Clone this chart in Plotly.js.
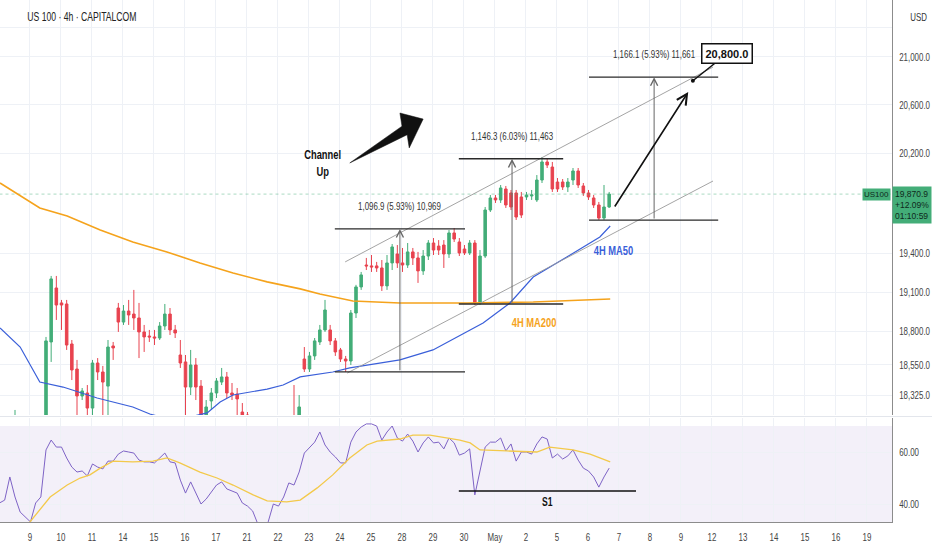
<!DOCTYPE html>
<html><head><meta charset="utf-8">
<script src="https://cdn.plot.ly/plotly-3.0.1.min.js"></script>
<style>html,body{margin:0;padding:0;background:#fff}#chart{width:932px;height:550px}</style>
</head><body><div id="chart"></div>
<script>
// ---------- DATA ----------
const firstBar = -3; // bar index of the first candle (4h bars, 6 per day)
const openP = [18068,18032,18083,18054,18068,18010,17981,17952,18054,18105,18721,19133,19018,19010,18706,18518,18318,18340,18229,18563,18496,18391,18691,18979,18872,18956,18933,18903,18797,18766,18759,18751,18842,18933,18812,18623,18571,18384,18548,18391,18156,18281,18340,18421,18459,18340,18332,18200,18178,18083,17996,17837,17779,17866,17959,17938,18032,18105,18068,18593,18518,18616,18721,18812,18812,18729,18661,18593,18578,18941,19141,19311,19304,19304,19288,19149,19327,19397,19327,19311,19413,19366,19265,19381,19483,19459,19467,19397,19562,19491,19436,19405,19483,19018,19381,19744,19840,19824,19912,19880,19880,19848,19848,19856,19824,19984,20130,20089,19968,19968,19928,19984,20057,19936,19880,19840,19784,19680,19768];
const highP = [18127,18105,18141,18215,18127,18083,18054,18105,18141,18759,19226,19226,19041,19041,18736,18586,18377,18399,18586,18600,18541,18736,18721,19018,19002,19041,19118,19018,18850,18812,18812,18872,19010,18979,18850,18736,18623,18661,18600,18436,18288,18377,18451,18526,18496,18414,18377,18266,18200,18141,18054,17923,17887,17996,18032,18083,18141,18399,18325,18683,18646,18751,18850,19041,18850,18751,18676,18616,18964,19157,19257,19366,19389,19335,19350,19389,19475,19467,19444,19483,19444,19413,19428,19506,19522,19506,19506,19585,19601,19522,19467,19506,19506,19428,19768,19864,19864,19944,19936,19904,19904,19888,19888,19904,20024,20170,20162,20130,20000,19992,20000,20081,20081,19960,19904,19864,19808,19944,19888];
const lowP = [17996,17959,18010,17996,17981,17952,17923,17938,18010,18068,18571,18888,18812,18661,18436,18141,18288,18141,18141,18436,18141,18141,18586,18797,18850,18850,18812,18600,18646,18721,18698,18736,18812,18774,18751,18526,18178,18325,18288,18068,18105,18215,18303,18399,18303,18288,18141,18105,18068,17959,17779,17708,17743,17837,17909,17923,17996,17996,18054,18496,18496,18586,18698,18797,18698,18616,18571,18496,18548,18903,19118,19272,19257,19257,19110,19118,19272,19288,19257,19288,19311,19172,19234,19350,19389,19389,19288,19366,19491,19381,19389,19389,19002,19002,19366,19728,19800,19800,19760,19744,19665,19680,19824,19824,19808,19960,20081,19888,19888,19904,19888,19944,19920,19856,19824,19760,19665,19665,19760];
const closeP = [18032,18083,18054,18068,18010,17981,17952,18054,18105,18729,19203,19002,19002,18698,18511,18318,18355,18229,18563,18496,18421,18683,18676,18872,18956,18926,18903,18797,18759,18759,18751,18842,18933,18812,18789,18563,18384,18548,18384,18141,18237,18340,18429,18459,18340,18325,18296,18178,18083,17996,17837,17779,17866,17959,17938,18032,18105,18068,18237,18518,18616,18729,18812,18964,18729,18646,18593,18578,18941,19141,19234,19304,19296,19288,19149,19327,19452,19327,19311,19413,19366,19265,19381,19483,19428,19428,19397,19562,19514,19405,19405,19483,19018,19381,19744,19840,19824,19920,19784,19768,19688,19704,19864,19864,19984,20130,20105,19912,19912,19928,19968,20057,19944,19880,19848,19784,19680,19768,19870.9];
const rsiVal = [40.4,41.5,50.4,42.7,36.9,35.0,33.1,40.4,42.7,60.8,64.6,61.9,61.9,57.7,54.2,52.3,52.7,50.8,55.4,54.2,53.5,56.5,56.5,59.2,60.4,60.0,59.6,56.9,56.2,56.2,55.8,57.7,59.6,56.2,55.8,49.2,44.2,48.5,44.2,40.0,41.9,44.6,47.3,48.5,45.8,45.0,44.2,40.4,39.2,37.3,32.3,30.0,33.1,40.0,39.2,42.7,48.1,47.3,52.3,59.6,61.5,63.8,67.7,62.7,60.0,58.1,55.8,55.8,63.8,67.7,69.6,70.8,70.8,70.0,64.6,67.7,70.0,65.4,64.2,66.9,64.2,60.0,63.5,65.8,63.5,63.8,61.2,65.4,63.5,58.8,59.6,61.2,43.5,53.1,61.9,63.8,63.8,65.4,60.4,63.1,56.5,60.0,60.0,59.2,63.1,65.8,65.0,57.7,59.2,57.3,58.5,60.8,56.9,53.8,52.7,50.4,46.5,50.4,53.8];
const rsiMaBar = [1.0,2.9,6.8,10.1,12.6,14.5,16.5,19.0,22.8,26.7,29.4,31.9,35.8,39.1,42.2,46.1,48.8,52.6,55.2,58.5,61.5,64.8,68.1,70.1,74.5,77.0,80.3,83.6,86.1,88.1,90.0,95.2,101.0,103.5,108.0,111.3,115.2];
const rsiMaVal = [28.1,33.1,42.7,47.3,50.0,51.2,53.8,56.5,56.2,56.5,57.7,55.8,52.3,50.0,47.3,43.5,41.2,40.8,41.5,46.2,51.2,57.7,62.7,64.2,65.0,66.5,66.5,65.4,64.6,63.5,60.8,60.4,60.0,61.9,60.8,59.2,56.2];
const ma50Bar = [-2.9,1.0,4.8,9.3,15.9,22.8,26.1,29.0,32.9,37.2,39.7,42.2,48.8,51.9,55.2,61.5,64.8,74.5,80.9,87.5,90.6,95.8,100.3,106.8,113.2,115.2];
const ma50Val = [18827,18683,18421,18384,18303,18237,18185,18156,18156,18193,18273,18325,18369,18399,18459,18496,18526,18586,18661,18797,18865,19018,19218,19373,19530,19617];
const ma200Bar = [-2.9,4.8,10.1,16.5,22.8,29.4,35.8,42.2,48.8,55.2,59.0,65.4,74.5,87.5,100.3,115.2];
const ma200Val = [19960,19760,19696,19585,19491,19413,19327,19249,19180,19126,19087,19033,19018,19018,19025,19048];
const dayLabels = ['9','10','11','14','15','16','17','21','22','23','24','25','28','29','30','May','2','5','6','7','8','9','12','13','14','15','16','19'];
const priceTicks = [18325,18550,18800,19100,19400,20200,20600,21000,21250];
const priceTickText = ['18,325.0','18,550.0','18,800.0','19,100.0','19,400.0','20,200.0','20,600.0','21,000.0',''];
const lastPrice = 19870.9;
// drawings (bar index / price)
const measStart = [61.9, 85.9, 111.1];
const measEnd = [87.1, 106.1, 136.1];
const measMid = [74.5, 96.2, 123.7];
const measLow = [18497, 19010, 19664];
const measHigh = [19594, 20156, 20830];
const measLabel = ['1,096.9 (5.93%) 10,969', '1,146.3 (6.03%) 11,463', '1,166.1 (5.93%) 11,661'];
const chanUpBar = [63.9, 135.1], chanUpVal = [19335, 20915];
const chanLoBar = [64.3, 135.1], chanLoVal = [18488, 19976];
const bigArrowBar = [64.8, 74.9, 74.5, 79.0, 76.3, 75.9, 64.8];
const bigArrowVal = [20122, 20422, 20531, 20481, 20244, 20352, 20122];
const projFrom = [115.9, 19760], projTo = [130.3, 20706];
const targetBar = 131.2, targetVal = 20800;
const s1Bar = [85.9, 120.2], s1Val = 45.0;

// ---------- CHART ----------
const FONT = '"Liberation Sans",Arial,sans-serif';
const SQUEEZE = 0.72; // the reference's lettering is horizontally condensed
const GRID = '#eef1f6';
const UP = '#43ad78', DOWN = '#e8434f';
const L10 = v => Math.log10(v);
const barX = openP.map((_, k) => firstBar + k);

const traces = [];
traces.push({type:'candlestick', x:barX, open:openP, high:highP, low:lowP, close:closeP,
  xaxis:'x', yaxis:'y', whiskerwidth:0, hoverinfo:'skip',
  increasing:{line:{color:UP,width:1}, fillcolor:UP},
  decreasing:{line:{color:DOWN,width:1}, fillcolor:DOWN}});
traces.push({type:'scatter', mode:'lines', x:[-3,170], y:[lastPrice,lastPrice], xaxis:'x', yaxis:'y',
  line:{color:'rgba(67,173,120,0.45)', width:1, dash:'dot'}, hoverinfo:'skip'});
traces.push({type:'scatter', mode:'lines', x:ma200Bar, y:ma200Val, xaxis:'x', yaxis:'y',
  line:{color:'#f5a31c', width:1.6}, hoverinfo:'skip'});
traces.push({type:'scatter', mode:'lines', x:ma50Bar, y:ma50Val, xaxis:'x', yaxis:'y',
  line:{color:'#3a5fd9', width:1.2}, hoverinfo:'skip'});
traces.push({type:'scatter', mode:'lines', x:[chanUpBar[0],chanUpBar[1],null,chanLoBar[0],chanLoBar[1]],
  y:[chanUpVal[0],chanUpVal[1],null,chanLoVal[0],chanLoVal[1]], xaxis:'x', yaxis:'y',
  line:{color:'#9a9a9a', width:0.9}, hoverinfo:'skip'});
const mx = [], my = [];
for (let k = 0; k < measStart.length; k++) {
  mx.push(measStart[k], measEnd[k], null, measStart[k], measEnd[k], null);
  my.push(measHigh[k], measHigh[k], null, measLow[k], measLow[k], null);
}
traces.push({type:'scatter', mode:'lines', x:mx, y:my, xaxis:'x', yaxis:'y',
  line:{color:'#2a2a2a', width:1.3}, hoverinfo:'skip'});
traces.push({type:'scatter', mode:'lines', x:bigArrowBar, y:bigArrowVal, xaxis:'x', yaxis:'y',
  fill:'toself', fillcolor:'#111', line:{color:'#111', width:0.5}, hoverinfo:'skip'});
traces.push({type:'scatter', mode:'markers', x:[targetBar], y:[targetVal], xaxis:'x', yaxis:'y',
  marker:{color:'#111', size:4}, hoverinfo:'skip'});
traces.push({type:'scatter', mode:'lines', x:barX, y:rsiVal, xaxis:'x', yaxis:'y2',
  line:{color:'#7e63c6', width:1}, hoverinfo:'skip'});
traces.push({type:'scatter', mode:'lines', x:rsiMaBar, y:rsiMaVal, xaxis:'x', yaxis:'y2',
  line:{color:'#f3c94a', width:1.3}, hoverinfo:'skip'});
traces.push({type:'scatter', mode:'lines', x:s1Bar, y:[s1Val, s1Val], xaxis:'x', yaxis:'y2',
  line:{color:'#111', width:1.6}, hoverinfo:'skip'});

const ann = [];
const boxed = new Set(); // boxed labels keep their natural width
ann.push({xref:'paper', yref:'paper', x:0, y:1, xanchor:'left', yanchor:'top', xshift:4, yshift:-8,
  text:'US 100 · 4h · CAPITALCOM', showarrow:false, font:{family:FONT, size:12, color:'#222'}});
ann.push({xref:'paper', yref:'paper', x:1, y:1, xanchor:'left', yanchor:'top', xshift:13, yshift:-9,
  text:'USD', showarrow:false, font:{family:FONT, size:11, color:'#333'}});
ann.push({xref:'x', yref:'y', x:59.6, y:L10(20122), text:'<b>Channel<br>Up</b>', showarrow:false,
  align:'center', font:{family:FONT, size:13, color:'#111'}});
ann.push({xref:'x', yref:'y', x:115.9, y:L10(19428), text:'<b>4H MA50</b>', showarrow:false,
  font:{family:FONT, size:13, color:'#3a5fd9'}});
ann.push({xref:'x', yref:'y', x:100.4, y:L10(18872), text:'<b>4H MA200</b>', showarrow:false,
  font:{family:FONT, size:13, color:'#f5a31c'}});
for (let k = 0; k < measStart.length; k++) {
  ann.push({xref:'x', yref:'y', x:measMid[k], y:L10(measHigh[k]), yshift:23, text:measLabel[k], showarrow:false,
    font:{family:FONT, size:11, color:'#333'}});
  ann.push({xref:'x', yref:'y', axref:'x', ayref:'y', x:measMid[k], y:L10(measHigh[k]),
    ax:measMid[k], ay:L10(measLow[k]), text:'', showarrow:true, arrowhead:5, arrowsize:1.4,
    arrowwidth:1, arrowcolor:'#666', standoff:0, startstandoff:0});
}
ann.push({xref:'x', yref:'y', axref:'x', ayref:'y', x:projTo[0], y:L10(projTo[1]),
  ax:projFrom[0], ay:L10(projFrom[1]), text:'', showarrow:true, arrowhead:5, arrowsize:1.3,
  arrowwidth:1.6, arrowcolor:'#111', standoff:0});
boxed.add(ann.length);
ann.push({xref:'x', yref:'y', x:targetBar, y:L10(targetVal), ax:34, ay:-27, text:'<b>20,800.0</b>',
  showarrow:true, arrowhead:0, arrowwidth:1.5, arrowcolor:'#111', bordercolor:'#111', borderwidth:1.5,
  borderpad:3, bgcolor:'#fff', font:{family:FONT, size:11, color:'#111'}});
ann.push({xref:'x', yref:'y2', x:(s1Bar[0]+s1Bar[1])/2, y:s1Val, yshift:-11, text:'<b>S1</b>', showarrow:false,
  font:{family:FONT, size:12, color:'#111'}});
boxed.add(ann.length);
ann.push({xref:'paper', yref:'y', x:1, y:L10(lastPrice), xanchor:'right', yanchor:'middle', xshift:-1,
  text:'US100', showarrow:false, bgcolor:UP, borderpad:1, font:{family:FONT, size:8, color:'#0f2a1c'}});
boxed.add(ann.length);
ann.push({xref:'paper', yref:'y', x:1, y:L10(lastPrice), xanchor:'left', yanchor:'top', xshift:0, yshift:8,
  text:'19,870.9<br>+12.09%<br>01:10:59', showarrow:false, align:'left', bgcolor:UP, borderpad:2,
  font:{family:FONT, size:8.5, color:'#0f2a1c'}});

const tickFont = {family:FONT, size:11, color:'#444'};
const layout = {
  width:932, height:550, margin:{l:0, r:40, t:0, b:28, pad:0},
  paper_bgcolor:'#fff', plot_bgcolor:'#fff', showlegend:false, hovermode:false,
  font:{family:FONT, size:11, color:'#333'},
  xaxis:{domain:[0,1], anchor:'y2', range:[-2.903,169.74], tickmode:'array',
    tickvals:dayLabels.map((_, k) => k*6 + 2.9), ticktext:dayLabels,
    showgrid:true, gridcolor:GRID, zeroline:false, showline:true, linecolor:'#8c8c8c', linewidth:1,
    ticks:'outside', ticklen:5, tickcolor:'rgba(0,0,0,0)', tickfont:tickFont,
    rangeslider:{visible:false}, fixedrange:true},
  yaxis:{domain:[1-415/522, 1], anchor:'x', type:'log', range:[L10(18178), L10(21488)], side:'right',
    tickmode:'array', tickvals:priceTicks, ticktext:priceTickText, showgrid:true, gridcolor:GRID,
    zeroline:false, showline:true, linecolor:'#8c8c8c', ticks:'outside', ticklen:4, tickcolor:'rgba(0,0,0,0)',
    tickfont:tickFont, fixedrange:true},
  yaxis2:{domain:[0, (522-418)/522], anchor:'x', range:[33.08, 73.08], side:'right',
    tickmode:'array', tickvals:[40,60], ticktext:['40.00','60.00'], showgrid:true, gridcolor:GRID,
    zeroline:false, showline:true, linecolor:'#8c8c8c', ticks:'outside', ticklen:4, tickcolor:'rgba(0,0,0,0)',
    tickfont:tickFont, fixedrange:true},
  shapes:[
    {type:'rect', xref:'paper', yref:'y2', x0:0, x1:1, y0:30, y1:70, fillcolor:'rgba(126,87,194,0.09)',
      line:{width:0}, layer:'below'},
    {type:'line', xref:'paper', yref:'paper', x0:0, x1:1.045, y0:1-416.5/522, y1:1-416.5/522,
      line:{color:'#e3e6ec', width:1}}
  ],
  annotations:ann
};
Plotly.newPlot('chart', traces, layout, {displayModeBar:false, staticPlot:true}).then(gd => {
  // condense lettering horizontally around each text's own anchor, like the reference
  gd.querySelectorAll('svg text').forEach(t => {
    const g = t.closest('g.annotation');
    if (g && boxed.has(+g.getAttribute('data-index'))) return;
    const x = parseFloat(t.getAttribute('x')) || 0;
    const prev = t.getAttribute('transform') || '';
    t.setAttribute('transform', prev + ' translate(' + x + ',0) scale(' + SQUEEZE + ',1) translate(' + (-x) + ',0)');
  });
});
</script>
</body></html>
